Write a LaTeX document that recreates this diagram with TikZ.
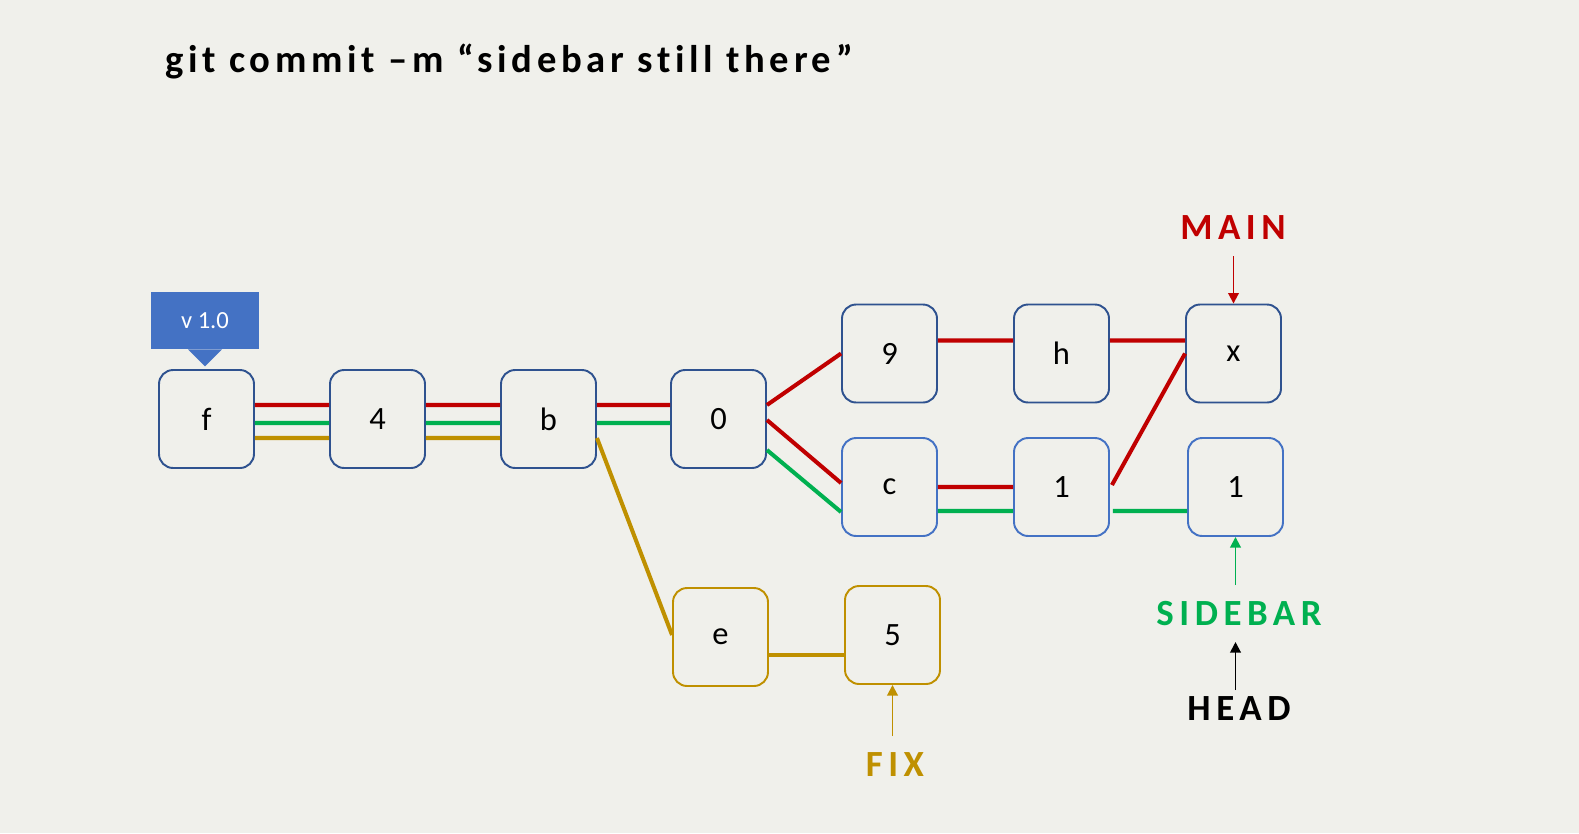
\documentclass[tikz,border=0pt]{standalone}
\usepackage{fontspec}
\setmainfont{Carlito}[Ligatures=NoCommon]
\usepackage {tikz}
\usetikzlibrary {positioning}
\usetikzlibrary{calc}
\usetikzlibrary{arrows.meta}
\definecolor{bgcolor}{RGB}{240,240,235}
\definecolor{mainred}{RGB}{192,0,0}
\definecolor{sidegreen}{RGB}{0,176,80}
\definecolor{fixgold}{RGB}{191,144,0}
\definecolor{olddblue}{RGB}{47,82,143}
\definecolor{newblue}{RGB}{68,114,196}
\newcommand{\lbl}[1]{\fontsize{#1}{#1}\selectfont}
\tikzset{
    commit/.style = {rectangle,draw=olddblue,line width=1.1pt,rounded corners=8pt,minimum width=1.9cm,minimum height=1.96cm,inner sep=0pt,font=\lbl{18.5}},
    newcommit/.style = {commit,draw=newblue},
    fixcommit/.style = {commit,draw=fixgold},
    branch/.style = {font=\lbl{21}\bfseries\addfontfeature{LetterSpace=15}},
    pointer/.style = {line width=1.1pt,-{Triangle[length=6pt,width=6pt]}},
    redline/.style = {draw=mainred,line width=2.3pt},
    greenline/.style = {draw=sidegreen,line width=2.3pt},
    goldline/.style = {draw=fixgold,line width=2.3pt},
    tag/.style = {rectangle,fill=newblue,text=white,minimum width=2.16cm,minimum height=1.14cm,inner sep=0pt,font=\lbl{14}}}
\begin{document}
\begin{tikzpicture}[x=0.02cm,y=-0.02cm]
    \fill[bgcolor] (0,0) rectangle (1579,833);
    \useasboundingbox (0,0) rectangle (1579,833);
    \node[anchor=base west,inner sep=0pt,font=\lbl{22}\bfseries\addfontfeature{LetterSpace=12}] (title) at (165,72) {git commit –m “sidebar still there”};
    \path (206.5,419) node[commit] (f) {f}
        + (171,0) node[commit] (c4) {4}
        + (342,0) node[commit] (b) {b}
        + (512,0) node[commit] (c0) {0}
        + (683,-65.5) node[commit] (c9) {9}
        + (855,-65.5) node[commit] (h) {h}
        + (1027,-65.5) node[commit] (x) {x}
        + (683,68) node[newcommit] (c) {c}
        + (855,68) node[newcommit] (c1) {1}
        + (1029,68) node[newcommit] (side1) {1}
        + (514,218) node[fixcommit] (e) {e}
        + (686,216) node[fixcommit] (c5) {5};
    \node[tag] (v10) at (205,320.5) {v 1.0};
    \fill[newblue] ($(v10.south)+(-17,0)$) -- ($(v10.south)+(17,0)$) -- ($(v10.south)+(0,17)$) -- cycle;
    % main branch
    \draw[redline] ($(f.east)+(0,-14)$) -- ($(c4.west)+(0,-14)$)
        ($(c4.east)+(0,-14)$) -- ($(b.west)+(0,-14)$)
        ($(b.east)+(0,-14)$) -- ($(c0.west)+(0,-14)$)
        ($(c0.east)+(0,-14)$) -- (c9.west)
        ($(c9.east)+(0,-13)$) -- ($(h.west)+(0,-13)$)
        ($(h.east)+(0,-13)$) -- ($(x.west)+(0,-13)$);
    \draw[redline] ($(c0.east)+(0,1)$) -- ($(c.west)+(0,-4)$)
        ($(c.east)+(0,0)$) -- ($(c1.west)+(0,0)$)
        ($(c1.east)+(2,-2)$) -- (x.west);
    % sidebar branch
    \draw[greenline] ($(f.east)+(0,4)$) -- ($(c4.west)+(0,4)$)
        ($(c4.east)+(0,4)$) -- ($(b.west)+(0,4)$)
        ($(b.east)+(0,4)$) -- ($(c0.west)+(0,4)$)
        ($(c0.east)+(0,31)$) -- ($(c.west)+(0,25)$)
        ($(c.east)+(0,24)$) -- ($(c1.west)+(0,24)$)
        ($(c1.east)+(3,24)$) -- ($(side1.west)+(0,24)$);
    % fix branch
    \draw[goldline] ($(f.east)+(0,19)$) -- ($(c4.west)+(0,19)$)
        ($(c4.east)+(0,19)$) -- ($(b.west)+(0,19)$)
        ($(b.east)+(0,19)$) -- ($(e.west)+(0,-2)$);
    \draw[goldline,line width=2.8pt] ($(e.east)+(0,18)$) -- ($(c5.west)+(0,20)$);
    % labels
    \node[branch,text=mainred] (main) at (1233,228) {MAIN};
    \node[branch,text=sidegreen] (sidebar) at (1239,614) {SIDEBAR};
    \node[branch,text=black] (head) at (1239,709) {HEAD};
    \node[branch,text=fixgold] (fix) at (895,765) {FIX};
    \draw[pointer,mainred] (x.north |- 0,256) -- (x.north);
    \draw[pointer,sidegreen] (side1.south |- 0,585) -- (side1.south);
    \draw[pointer,black] (side1.south |- 0,690) -- (side1.south |- 0,642);
    \draw[pointer,fixgold] (c5.south |- 0,736) -- (c5.south);
\end{tikzpicture}
\end{document}
